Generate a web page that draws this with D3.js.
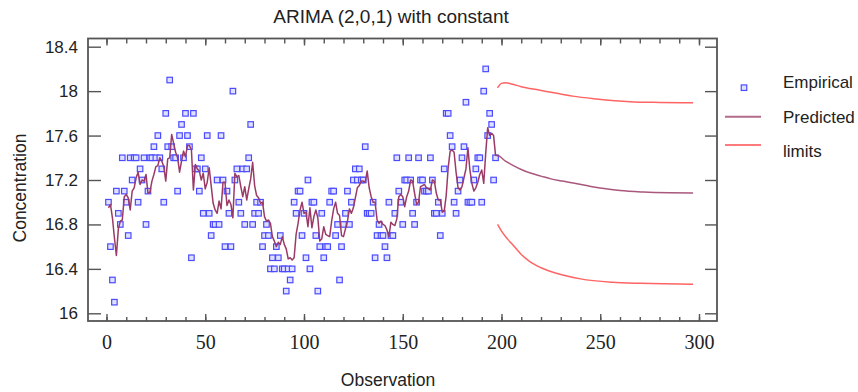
<!DOCTYPE html>
<html><head><meta charset="utf-8">
<script src="https://cdn.jsdelivr.net/npm/d3@7"></script>
<style>body{margin:0;background:#fff}svg{display:block}</style>
</head><body>
<svg id="chart" width="858" height="392"></svg>
<script>
// Observed concentration (observations 1..197)
const observed = [
17.0,16.6,16.3,16.1,17.1,16.9,16.8,17.4,17.1,17.0,
16.7,17.4,17.2,17.4,17.4,17.0,17.3,17.2,17.4,16.8,
17.1,17.4,17.4,17.5,17.4,17.6,17.4,17.3,17.0,17.8,
17.5,18.1,17.5,17.4,17.4,17.1,17.6,17.7,17.4,17.8,
17.6,17.5,16.5,17.8,17.3,17.3,17.1,17.4,16.9,17.3,
17.6,16.9,16.7,16.8,16.8,17.2,16.8,17.6,17.2,16.6,
17.1,16.9,16.6,18.0,17.2,17.3,17.0,16.9,17.3,16.8,
17.3,17.4,17.7,16.8,16.9,17.0,16.9,17.0,16.6,16.7,
16.8,16.7,16.4,16.5,16.4,16.6,16.5,16.7,16.4,16.4,
16.2,16.4,16.3,16.4,17.0,16.9,17.1,17.1,16.7,16.9,
16.5,17.2,16.4,17.0,17.0,16.7,16.2,16.6,16.9,16.5,
16.6,16.6,17.0,17.1,17.1,16.7,16.8,16.3,16.6,16.8,
16.9,17.1,16.8,17.0,17.2,17.3,17.2,17.3,17.2,17.2,
17.5,16.9,16.9,16.9,17.0,16.5,16.7,16.8,16.7,16.7,
16.6,16.5,17.0,16.7,16.7,16.9,17.4,17.1,17.0,16.8,
17.2,17.2,17.4,17.2,16.9,16.8,17.0,17.4,17.2,17.2,
17.1,17.1,17.1,17.4,17.2,16.9,16.9,17.0,16.7,16.9,
17.3,17.8,17.8,17.6,17.5,17.0,16.9,17.1,17.2,17.4,
17.5,17.9,17.0,17.0,17.0,17.2,17.3,17.4,17.4,17.0,
18.0,18.2,17.6,17.8,17.7,17.2,17.4
];
// One-step-ahead predictions (observations 1..197)
const predicted = [
16.95,16.98,16.86,16.68,16.52,16.76,16.83,16.84,17.05,17.07,
17.04,16.93,17.10,17.13,17.22,17.27,17.16,17.20,17.19,17.25,
17.08,17.09,17.19,17.25,17.32,17.33,17.40,17.37,17.32,17.19,
17.39,17.40,17.61,17.53,17.45,17.40,17.27,17.37,17.46,17.41,
17.51,17.51,17.47,17.11,17.34,17.30,17.28,17.20,17.26,17.12,
17.18,17.31,17.15,16.99,16.93,16.90,17.01,16.94,17.18,17.18,
16.97,17.02,16.98,16.86,17.26,17.23,17.24,17.14,17.05,17.14,
17.02,17.12,17.21,17.36,17.15,17.06,17.04,16.99,17.00,16.87,
16.83,16.84,16.81,16.69,16.65,16.60,16.64,16.62,16.69,16.62,
16.58,16.49,16.50,16.48,16.50,16.71,16.81,16.93,17.00,16.90,
16.91,16.78,16.95,16.77,16.87,16.93,16.86,16.65,16.67,16.78,
16.71,16.70,16.69,16.83,16.94,17.00,16.90,16.88,16.70,16.69,
16.76,16.83,16.94,16.90,16.95,17.04,17.13,17.15,17.19,17.19,
17.18,17.28,17.13,17.05,17.00,17.00,16.84,16.81,16.83,16.80,
16.79,16.75,16.69,16.82,16.80,16.79,16.85,17.05,17.07,17.05,
16.96,17.05,17.10,17.20,17.19,17.08,16.98,17.00,17.14,17.15,
17.16,17.13,17.12,17.11,17.20,17.19,17.08,17.02,17.02,16.91,
16.92,17.06,17.31,17.46,17.47,17.45,17.27,17.13,17.11,17.14,
17.22,17.30,17.49,17.29,17.17,17.10,17.13,17.18,17.25,17.29,
17.17,17.44,17.67,17.60,17.62,17.60,17.42
];
// Forecasts beyond the data
const forecastObs = [198,202,206,210,215,220,225,231,237,243,251,260,272,285,297];
const forecastVal = [17.42,17.37,17.33,17.295,17.26,17.235,17.21,17.19,17.17,17.15,17.125,17.105,17.092,17.085,17.082];
const upperObs = [198,200,202,205,210,219,228,236,248,265,280,297];
const upperVal = [18.03,18.07,18.075,18.065,18.04,18.01,17.98,17.955,17.93,17.905,17.898,17.895];
const lowerObs = [198,200,203,206,210,214,220,231,240,256,270,282,297];
const lowerVal = [16.80,16.74,16.67,16.61,16.53,16.47,16.41,16.345,16.31,16.28,16.27,16.265,16.262];

const xMajor = [0,50,100,150,200,250,300];
const xMinor = d3.range(0,301,10);
const yTicks = [16,16.4,16.8,17.2,17.6,18,18.4];
const legendLabels = ["Empirical","Predicted","limits"];

const svg = d3.select("#chart");
const L = 88, R = 717, T = 38.5, B = 321;
const x = d3.scaleLinear().domain([0,300]).range([106.5,699]);
const y = d3.scaleLinear().domain([16,18.4]).range([313.3,46.7]);
const axisCol = "#555";

// frame
svg.append("rect").attr("x",L).attr("y",T).attr("width",R-L).attr("height",B-T)
  .attr("fill","none").attr("stroke",axisCol).attr("stroke-width",1.8);

function styleAxis(g){
  g.select(".domain").remove();
  g.selectAll("line").attr("stroke",axisCol).attr("stroke-width",1.4);
}
// bottom
svg.append("g").attr("transform",`translate(0,${B})`)
  .call(d3.axisBottom(x).tickValues(xMinor).tickSize(-4).tickFormat(""))
  .call(styleAxis);
svg.append("g").attr("transform",`translate(0,${B})`)
  .call(d3.axisBottom(x).tickValues(xMajor).tickSize(-7).tickPadding(14).tickFormat(d3.format("d")))
  .call(styleAxis)
  .call(g=>g.selectAll("text").attr("font-family","'Liberation Serif','Times New Roman',serif")
     .attr("font-size","20px").attr("fill","#222"));
// top
svg.append("g").attr("transform",`translate(0,${T})`)
  .call(d3.axisTop(x).tickValues(xMinor).tickSize(-5).tickFormat(""))
  .call(styleAxis);
svg.append("g").attr("transform",`translate(0,${T})`)
  .call(d3.axisTop(x).tickValues(xMajor).tickSize(-7).tickFormat(""))
  .call(styleAxis);
// left
svg.append("g").attr("transform",`translate(${L},0)`)
  .call(d3.axisLeft(y).tickValues(yTicks).tickSize(-13).tickPadding(10).tickFormat(d=>String(+d.toFixed(1))))
  .call(styleAxis)
  .call(g=>g.selectAll("text").attr("font-family","'Liberation Sans',Arial,sans-serif")
     .attr("font-size","17px").attr("fill","#222"));
// right
svg.append("g").attr("transform",`translate(${R},0)`)
  .call(d3.axisRight(y).tickValues(yTicks).tickSize(-12).tickFormat(""))
  .call(styleAxis);

const predCol = "#9a3a66", limCol = "#ff6464", markStroke = "#4c4cff", markFill = "#e0e0ff";

// limits
const curve = d3.line().x(d=>x(d[0])).y(d=>y(d[1])).curve(d3.curveMonotoneX);
svg.append("path").datum(upperObs.map((o,i)=>[o,upperVal[i]]))
  .attr("d",curve).attr("fill","none").attr("stroke",limCol).attr("stroke-width",1.5);
svg.append("path").datum(lowerObs.map((o,i)=>[o,lowerVal[i]]))
  .attr("d",curve).attr("fill","none").attr("stroke",limCol).attr("stroke-width",1.5);

// observed markers
svg.append("g").selectAll("rect").data(observed).join("rect")
  .attr("x",(d,i)=>x(i+1)-2.75).attr("y",d=>y(d)-2.75).attr("width",5.5).attr("height",5.5)
  .attr("fill",markFill).attr("stroke",markStroke).attr("stroke-width",1.2);

// predicted line
const lin = d3.line().x(d=>x(d[0])).y(d=>y(d[1]));
svg.append("path").datum(predicted.map((v,i)=>[i+1,v]))
  .attr("d",lin).attr("fill","none").attr("stroke",predCol).attr("stroke-width",1.5)
  .attr("stroke-linejoin","round");
svg.append("path").datum([[197,predicted[196]]].concat(forecastObs.map((o,i)=>[o,forecastVal[i]])))
  .attr("d",curve).attr("fill","none").attr("stroke",predCol).attr("stroke-opacity",0.85).attr("stroke-width",1.5);

// title and axis titles
const sans = "'Liberation Sans',Arial,sans-serif";
svg.append("text").attr("x",391).attr("y",22.5).attr("text-anchor","middle")
  .attr("font-family",sans).attr("font-size","19px").attr("fill","#222").text("ARIMA (2,0,1) with constant");
svg.append("text").attr("x",388).attr("y",386).attr("text-anchor","middle")
  .attr("font-family",sans).attr("font-size","17.5px").attr("fill","#222").text("Observation");
svg.append("text").attr("transform","translate(26,188) rotate(-90)").attr("text-anchor","middle")
  .attr("font-family",sans).attr("font-size","17.5px").attr("fill","#222").text("Concentration");

// legend
const lg = svg.append("g");
lg.append("rect").attr("x",744-2.75).attr("y",87.7-2.75).attr("width",5.5).attr("height",5.5)
  .attr("fill",markFill).attr("stroke",markStroke).attr("stroke-width",1.2);
lg.append("line").attr("x1",725).attr("x2",761).attr("y1",116.7).attr("y2",116.7)
  .attr("stroke",predCol).attr("stroke-opacity",0.75).attr("stroke-width",2);
lg.append("line").attr("x1",725).attr("x2",761).attr("y1",145).attr("y2",145)
  .attr("stroke",limCol).attr("stroke-opacity",0.85).attr("stroke-width",2);
lg.selectAll("text").data(legendLabels).join("text")
  .attr("x",783).attr("y",(d,i)=>88+i*34.5)
  .attr("font-family",sans).attr("font-size","17px").attr("fill","#222").text(d=>d);
</script>
</body></html>
